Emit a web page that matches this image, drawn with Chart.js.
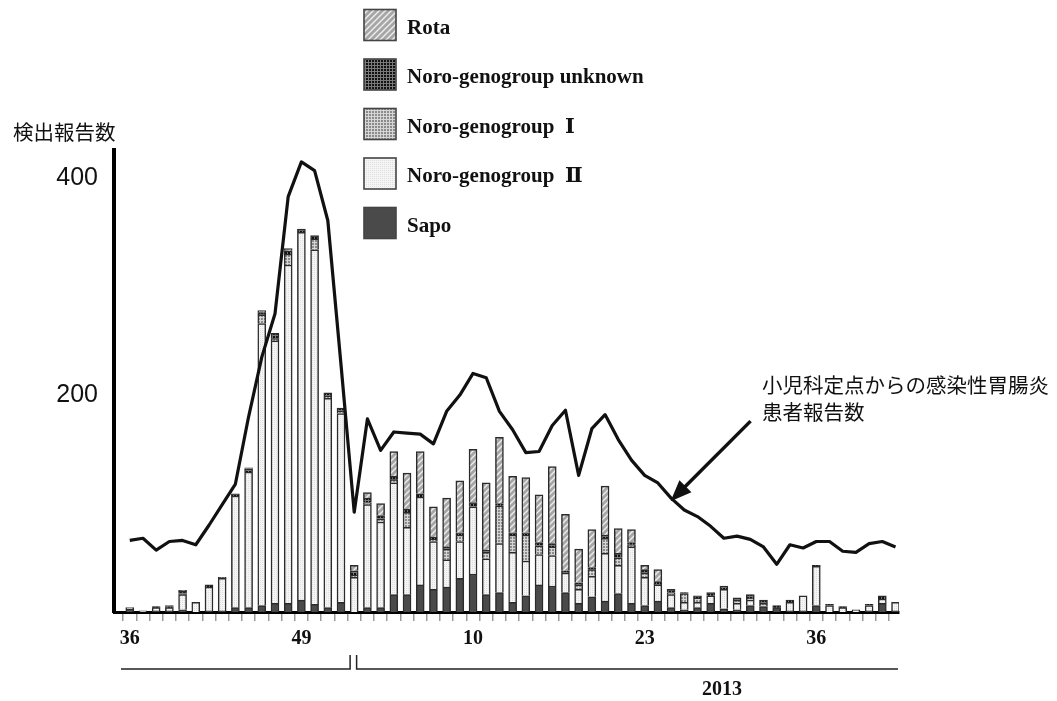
<!DOCTYPE html>
<html lang="ja">
<head>
<meta charset="utf-8">
<title>感染性胃腸炎 病原体検出報告数</title>
<script src="https://cdn.jsdelivr.net/npm/chart.js@4.4.1/dist/chart.umd.min.js"></script>
<style>
  html, body { margin: 0; padding: 0; background: #fff; }
  canvas { display: block; }
</style>
</head>
<body>
<canvas id="c" width="1057" height="701"></canvas>
<script>
// Epidemiological weeks: 2012 week 36 through 2013 week 42
const weeks = [36,37,38,39,40,41,42,43,44,45,46,47,48,49,50,51,52,
  1,2,3,4,5,6,7,8,9,10,11,12,13,14,15,16,17,18,19,20,21,22,23,24,25,26,27,28,29,30,
  31,32,33,34,35,36,37,38,39,40,41,42];
const tickWeeks = [36, 49, 10, 23];
const yTicks = [200, 400];
const yearLabel = '2013';

// Virus detection reports per week (stacked, bottom to top)
const sapo = [3,0,1,1,2,0,1,1,4,4,6,8,8,11,7,4,9,
  0,4,4,16,16,25,21,23,31,35,16,18,9,15,25,24,18,8,14,10,17,8,6,10,4,2,4,8,3,2,6,5,4,1,1,6,0,0,0,1,8,1];
const noroII = [1,1,3,3,14,9,22,30,103,125,260,242,312,339,327,193,174,
  32,95,79,103,62,81,44,25,34,62,33,45,46,32,28,28,18,13,19,44,26,52,26,15,12,7,5,7,18,6,5,0,0,8,14,36,6,4,2,5,4,8];
const noroI = [0,0,0,0,1,0,0,1,0,0,8,2,10,0,10,2,2,
  2,2,3,3,14,0,2,10,6,0,6,35,16,24,8,8,0,4,6,14,7,2,4,0,2,8,4,0,0,3,2,3,0,0,0,0,0,0,0,0,0,0];
const noroUnknown = [0,0,1,1,2,0,2,0,2,3,2,5,3,3,3,3,3,
  4,4,3,3,3,3,2,2,2,4,2,2,2,2,3,3,2,2,2,3,4,2,3,3,3,1,2,3,3,2,3,3,2,2,0,1,1,1,0,1,3,0];
const rota = [0,0,0,1,1,0,0,0,0,1,2,0,2,0,0,0,0,
  5,5,11,23,33,39,28,45,48,49,62,61,52,51,44,71,52,31,35,45,23,12,4,11,0,0,0,0,0,0,0,0,0,0,0,0,0,0,0,0,0,0];

// Gastroenteritis patients reported by pediatric sentinels
const patients = [66,68,57,65,66,62,80,99,118,180,235,275,383,415,407,361,228,
  92,178,149,166,165,164,155,185,200,220,216,185,168,147,148,172,186,126,169,182,159,140,126,119,105,94,88,79,68,70,67,60,44,62,59,65,65,56,55,63,65,60];

const seriesNames = {
  sapo: 'Sapo',
  noroII: 'Noro-genogroup  Ⅱ',
  noroI: 'Noro-genogroup  Ⅰ',
  noroUnknown: 'Noro-genogroup unknown',
  rota: 'Rota',
  patients: '小児科定点からの感染性胃腸炎患者報告数'
};
const yTitle = '検出報告数';
const noteLines = ['小児科定点からの感染性胃腸炎', '患者報告数'];

const canvas = document.getElementById('c');
const ctx0 = canvas.getContext('2d');

function makePattern(size, draw) {
  const c = document.createElement('canvas');
  c.width = size; c.height = size;
  const g = c.getContext('2d');
  draw(g, size);
  return ctx0.createPattern(c, 'repeat');
}

// Fills: hatched, dark mesh, grey mesh, pale dots, solid
const rotaFill = makePattern(6, (g, s) => {
  g.fillStyle = '#a6a6a6'; g.fillRect(0, 0, s, s);
  g.strokeStyle = '#eeeeee'; g.lineWidth = 1.4;
  g.beginPath();
  g.moveTo(-1, s + 1); g.lineTo(s + 1, -1);
  g.moveTo(-1, 1); g.lineTo(1, -1);
  g.moveTo(s - 1, s + 1); g.lineTo(s + 1, s - 1);
  g.stroke();
});
const unknownFill = makePattern(3, (g) => {
  g.fillStyle = '#7a7a7a'; g.fillRect(0, 0, 3, 3);
  g.fillStyle = '#111111'; g.fillRect(0, 0, 2, 2);
});
const noroIFill = makePattern(3, (g) => {
  g.fillStyle = '#d6d6d6'; g.fillRect(0, 0, 3, 3);
  g.fillStyle = '#8c8c8c'; g.fillRect(0, 0, 2, 2);
});
const noroIIFill = makePattern(2, (g) => {
  g.fillStyle = '#f5f5f5'; g.fillRect(0, 0, 2, 2);
  g.fillStyle = '#dedede'; g.fillRect(0, 0, 1, 1);
});
const sapoFill = '#4a4a4a';

const toXY = arr => arr.map((v, i) => ({ x: i, y: v }));

const barStyle = {
  type: 'bar', stack: 'virus', borderColor: '#2b2b2b', borderWidth: 1.5,
  barThickness: 8, clip: 0, order: 1
};

const extras = {
  id: 'extras',
  afterDraw(chart) {
    const { ctx, scales: { x, y } } = chart;
    ctx.save();

    // y-axis title
    ctx.fillStyle = '#111';
    ctx.font = '20.5px "Noto Sans CJK JP", sans-serif';
    ctx.textAlign = 'left';
    ctx.textBaseline = 'middle';
    ctx.fillText(yTitle, 13, 132);

    // legend, top entry is the top of the stack
    const items = chart.data.datasets.filter(d => d.type === 'bar').slice().reverse();
    items.forEach((d, k) => {
      const top = 9.5 + k * 49.5;
      ctx.fillStyle = d.backgroundColor;
      ctx.fillRect(364, top, 32, 31);
      ctx.strokeStyle = '#444'; ctx.lineWidth = 1.6;
      ctx.strokeRect(364, top, 32, 31);
      ctx.fillStyle = '#111';
      ctx.font = 'bold 21px "Liberation Serif", "DejaVu Serif", serif';
      ctx.textBaseline = 'alphabetic';
      ctx.fillText(d.label, 407, top + 24);
    });

    // year brackets under the week axis
    const split = weeks.findIndex((w, i) => i > 0 && w < weeks[i - 1]) - 0.5;
    const bx = x.getPixelForValue(split);
    ctx.strokeStyle = '#222'; ctx.lineWidth = 1.5;
    ctx.beginPath();
    ctx.moveTo(x.left + 7, 669); ctx.lineTo(bx + 2.5, 669); ctx.lineTo(bx + 2.5, 655);
    ctx.moveTo(bx + 9, 655); ctx.lineTo(bx + 9, 669); ctx.lineTo(x.right - 1, 669);
    ctx.stroke();
    ctx.fillStyle = '#111';
    ctx.font = 'bold 20px "Liberation Serif", "DejaVu Serif", serif';
    ctx.textAlign = 'center'; ctx.textBaseline = 'middle';
    ctx.fillText(yearLabel, 722, 690);

    // note with arrow pointing at the patient line
    ctx.textAlign = 'left';
    ctx.font = '20.5px "Noto Sans CJK JP", sans-serif';
    ctx.fillText(noteLines[0], 762, 385);
    ctx.fillText(noteLines[1], 762, 412);

    const ai = 41;
    const tipX = x.getPixelForValue(ai) - 0.5;
    const tipY = y.getPixelForValue(patients[ai]) + 3;
    const tailX = tipX + 80, tailY = tipY - 80;
    const len = Math.hypot(tailX - tipX, tailY - tipY);
    const ux = (tipX - tailX) / len, uy = (tipY - tailY) / len;
    ctx.strokeStyle = '#111'; ctx.lineWidth = 3.5; ctx.lineCap = 'butt';
    ctx.beginPath();
    ctx.moveTo(tailX, tailY);
    ctx.lineTo(tipX - ux * 14, tipY - uy * 14);
    ctx.stroke();
    const bxh = tipX - ux * 21, byh = tipY - uy * 21;
    ctx.fillStyle = '#111';
    ctx.beginPath();
    ctx.moveTo(tipX, tipY);
    ctx.lineTo(bxh - uy * 8.5, byh + ux * 8.5);
    ctx.lineTo(bxh + uy * 8.5, byh - ux * 8.5);
    ctx.closePath();
    ctx.fill();

    ctx.restore();
  }
};

new Chart(canvas, {
  data: {
    datasets: [
      { ...barStyle, label: seriesNames.sapo, data: toXY(sapo), backgroundColor: sapoFill },
      { ...barStyle, label: seriesNames.noroII, data: toXY(noroII), backgroundColor: noroIIFill },
      { ...barStyle, label: seriesNames.noroI, data: toXY(noroI), backgroundColor: noroIFill },
      { ...barStyle, label: seriesNames.noroUnknown, data: toXY(noroUnknown), backgroundColor: unknownFill },
      { ...barStyle, label: seriesNames.rota, data: toXY(rota), backgroundColor: rotaFill },
      {
        type: 'line', label: seriesNames.patients, data: toXY(patients), stack: 'patients',
        borderColor: '#111', borderWidth: 3.2, pointRadius: 0, tension: 0,
        borderJoinStyle: 'round', clip: 0, order: 0
      }
    ]
  },
  options: {
    responsive: false,
    animation: false,
    events: [],
    layout: { padding: { top: 150, right: 158, bottom: 0, left: 0 } },
    plugins: { legend: { display: false }, tooltip: { enabled: false } },
    scales: {
      x: {
        type: 'linear', min: -0.69, max: 57.76,
        afterBuildTicks: s => { s.ticks = weeks.map((w, i) => ({ value: i })); },
        afterFit: s => { s.height = 89; },
        grid: { display: true, drawOnChartArea: false, drawTicks: true, tickLength: 9, color: '#9a9a9a', lineWidth: 1.5 },
        border: { display: true, color: '#000', width: 3 },
        ticks: {
          autoSkip: false, maxRotation: 0, minRotation: 0, padding: 6, color: '#111',
          font: { family: '"Liberation Serif", "DejaVu Serif", serif', size: 20, weight: 'bold' },
          callback: (v) => (tickWeeks.includes(weeks[v]) ? String(weeks[v]) : '')
        }
      },
      y: {
        type: 'linear', min: 0, max: 426, stacked: true,
        afterBuildTicks: s => { s.ticks = yTicks.map(v => ({ value: v })); },
        afterFit: s => { s.width = 114; },
        grid: { display: false, drawTicks: false },
        border: { display: true, color: '#000', width: 4 },
        ticks: {
          padding: 16, color: '#111',
          font: { family: '"Liberation Sans", Arial, sans-serif', size: 25 }
        }
      }
    }
  },
  plugins: [extras]
});
</script>
</body>
</html>
